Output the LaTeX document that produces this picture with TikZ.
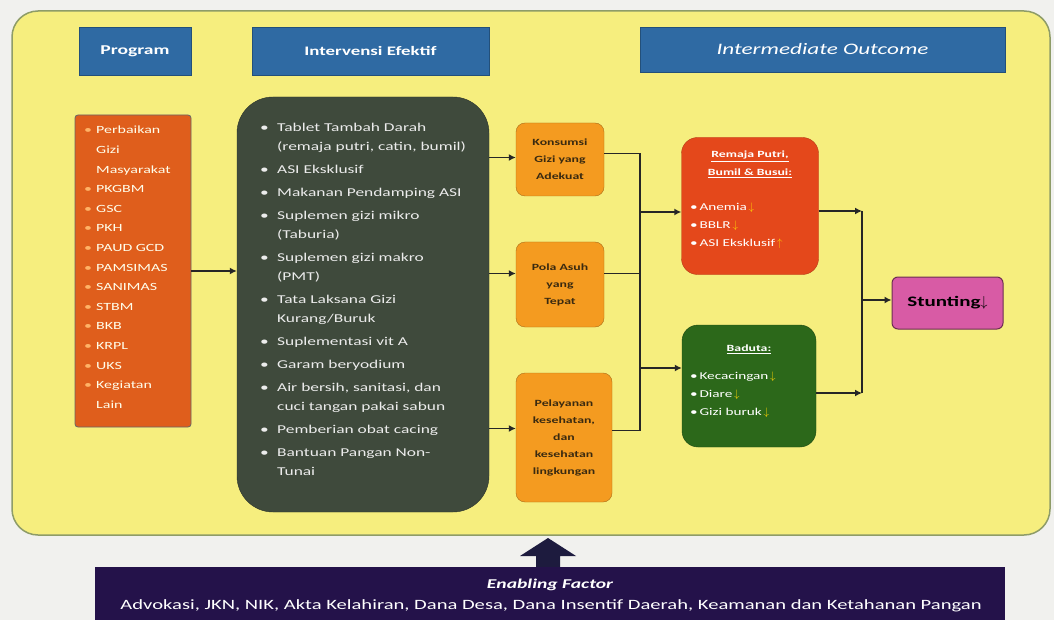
\documentclass[tikz,border=0pt]{standalone}
\usepackage{fontspec}
\setmainfont[FakeStretch=1.45]{Carlito}
\usetikzlibrary{arrows.meta}

\definecolor{pagegrey}{HTML}{F1F1EE}
\definecolor{panelyellow}{HTML}{F6EE7E}
\definecolor{paneledge}{HTML}{8E9C68}
\definecolor{hdrblue}{HTML}{2F6AA3}
\definecolor{progorange}{HTML}{DF5E1C}
\definecolor{intgreen}{HTML}{3F4A3C}
\definecolor{midorange}{HTML}{F49B20}
\definecolor{outred}{HTML}{E4481B}
\definecolor{outgreen}{HTML}{2C681A}
\definecolor{stuntpink}{HTML}{D85BA5}
\definecolor{enabpurple}{HTML}{24124A}
\definecolor{arrowcol}{HTML}{1D1B3E}
\definecolor{textdark}{HTML}{3A2A10}

\tikzset{
  hdr/.style={fill=hdrblue, draw=hdrblue!75!black, text=white, inner sep=0pt},
  listbox/.style={rounded corners=3pt, draw=black!60, line width=0.8pt},
  midbox/.style={fill=midorange, draw=midorange!70!black, rounded corners=9pt,
    text=textdark, align=center, font=\bfseries\fontsize{9.5}{17}\selectfont},
  outbox/.style={rounded corners=16pt, text=white, align=left},
  line/.style={draw=black!85, line width=1.6pt},
  arr/.style={line, -{Latex[length=7pt,width=7pt]}}
}

% bullets in the lists
\newcommand{\bl}{\makebox[17pt][l]{\textbullet}}
\newcommand{\ind}{\hspace*{17pt}}
\newcommand{\pbl}{\makebox[12pt][l]{\color{orange!60!white}\textbullet}}
\newcommand{\pind}{\hspace*{12pt}}
\newcommand{\dn}{\,{\color{yellow!70!orange}$\downarrow$}}
\newcommand{\up}{\,{\color{yellow!70!orange}$\uparrow$}}

\begin{document}
\begin{tikzpicture}[x=1pt,y=-1pt]
\useasboundingbox (0,0) rectangle (1054,620);
\fill[pagegrey] (0,0) rectangle (1054,620);

% yellow panel
\draw[fill=panelyellow, draw=paneledge, line width=1.5pt, rounded corners=26pt]
  (12,11) rectangle (1050,535);

% column headers
\node[hdr, minimum width=112, minimum height=48, font=\bfseries\fontsize{13.5}{15}\selectfont]
  (hprog) at (135,51) {Program};
\node[hdr, minimum width=237, minimum height=48, font=\bfseries\fontsize{13}{15}\selectfont]
  (hint) at (370.5,51) {Intervensi Efektif};
\node[hdr, minimum width=365, minimum height=45, font=\itshape\fontsize{16}{18}\selectfont]
  (hout) at (822.5,49.5) {Intermediate Outcome};

% program list
\node[listbox, fill=progorange, minimum width=116, minimum height=312] (prog) at (133,271) {};
\node[anchor=north west, align=left, text=white!92!yellow, inner sep=0pt,
  font=\fontsize{11}{19.6}\selectfont] (progtxt) at (84,126) {%
  \pbl Perbaikan\\ \pind Gizi\\ \pind Masyarakat\\ \pbl PKGBM\\ \pbl GSC\\
  \pbl PKH\\ \pbl PAUD GCD\\ \pbl PAMSIMAS\\ \pbl SANIMAS\\ \pbl STBM\\
  \pbl BKB\\ \pbl KRPL\\ \pbl UKS\\ \pbl Kegiatan\\ \pind Lain};

% effective interventions
\node[fill=intgreen, draw=intgreen!70!black, rounded corners=36pt,
  minimum width=252, minimum height=415] (interv) at (363,304.5) {};
\node[anchor=north west, align=left, text=white!85!gray, inner sep=0pt,
  font=\fontsize{12}{19}\selectfont] (inttxt) at (260,123) {%
  \bl Tablet Tambah Darah\\ \ind(remaja putri, catin, bumil)\\[4pt]
  \bl ASI Eksklusif\\[4pt]
  \bl Makanan Pendamping ASI\\[4pt]
  \bl Suplemen gizi mikro\\ \ind(Taburia)\\[4pt]
  \bl Suplemen gizi makro\\ \ind(PMT)\\[4pt]
  \bl Tata Laksana Gizi\\ \ind Kurang/Buruk\\[4pt]
  \bl Suplementasi vit A\\[4pt]
  \bl Garam beryodium\\[4pt]
  \bl Air bersih, sanitasi, dan\\ \ind cuci tangan pakai sabun\\[4pt]
  \bl Pemberian obat cacing\\[4pt]
  \bl Bantuan Pangan Non-\\ \ind Tunai};

% intermediate boxes
\node[midbox, minimum width=88, minimum height=73] (gizi) at (560,159.5)
  {Konsumsi\\Gizi yang\\Adekuat};
\node[midbox, minimum width=88, minimum height=85] (asuh) at (560,284.5)
  {Pola Asuh\\yang\\Tepat};
\node[midbox, minimum width=96, minimum height=129] (yankes) at (564,437.5)
  {Pelayanan\\kesehatan,\\dan\\kesehatan\\lingkungan};

% outcome groups
\node[outbox, fill=outred, draw=outred!80!black, minimum width=137, minimum height=137]
  (remaja) at (750,206) {};
\node[anchor=north, align=center, text=white, inner sep=0pt,
  font=\bfseries\fontsize{9.5}{18}\selectfont] (remajahead) at (750,151)
  {\underline{Remaja Putri,}\\\underline{Bumil \& Busui:}};
\node[anchor=north west, align=left, text=white, inner sep=0pt,
  font=\fontsize{10.5}{18}\selectfont] (remajatxt) at (690,203)
  {\textbullet\,Anemia\dn\\ \textbullet\,BBLR\dn\\ \textbullet\,ASI Eksklusif\up};

\node[outbox, fill=outgreen, draw=outgreen!70!black, minimum width=134, minimum height=122]
  (baduta) at (749,386) {};
\node[anchor=north, text=white, inner sep=0pt,
  font=\bfseries\fontsize{9.5}{18}\selectfont] (badutahead) at (749,345) {\underline{Baduta:}};
\node[anchor=north west, align=left, text=white, inner sep=0pt,
  font=\fontsize{10.5}{18}\selectfont] (badutatxt) at (690,372)
  {\textbullet\,Kecacingan\dn\\ \textbullet\,Diare\dn\\ \textbullet\,Gizi buruk\dn};

\node[fill=stuntpink, draw=stuntpink!50!black, line width=1pt, rounded corners=6pt,
  minimum width=111, minimum height=52, font=\bfseries\fontsize{14.5}{16}\selectfont]
  (stunting) at (947.5,303) {Stunting$\downarrow$};

% connectors
\coordinate (busL) at (640,300);
\coordinate (busR) at (862,300);
\draw[arr] (prog.east) -- (prog.east -| interv.west);
\draw[arr] ([yshift=2pt]interv.east |- gizi.west) -- ([yshift=2pt]gizi.west);
\draw[arr] ([yshift=11pt]interv.east |- asuh.west) -- ([yshift=11pt]asuh.west);
\draw[arr] ([yshift=9pt]interv.east |- yankes.west) -- ([yshift=9pt]yankes.west);
\draw[line] ([yshift=6pt]gizi.east) -- ([yshift=6pt]gizi.east -| busL)
  -- ([yshift=7pt]yankes.east -| busL) -- ([yshift=7pt]yankes.east);
\draw[line] ([yshift=11pt]asuh.east) -- ([yshift=11pt]asuh.east -| busL);
\draw[arr] ([yshift=-6pt]busL |- remaja.west) -- ([yshift=-6pt]remaja.west);
\draw[arr] ([yshift=18pt]busL |- baduta.west) -- ([yshift=18pt]baduta.west);
\draw[arr] ([yshift=-5pt]remaja.east) -- ([yshift=-5pt]remaja.east -| busR);
\draw[arr] ([yshift=-7pt]baduta.east) -- ([yshift=-7pt]baduta.east -| busR);
\draw[line] ([yshift=-5pt]remaja.east -| busR) -- ([yshift=-7pt]baduta.east -| busR);
\draw[arr] (busR) -- (busR -| stunting.west);

% enabling factor
\node[fill=enabpurple, minimum width=910, minimum height=54, inner sep=0pt] (enabling) at (550,594) {};
\node[text=white, font=\bfseries\itshape\fontsize{13.5}{15}\selectfont, inner sep=0pt]
  (enabhead) at (550,585) {Enabling Factor};
\node[text=white, font=\fontsize{14.2}{15}\selectfont, inner sep=0pt]
  (enabtxt) at (551,606) {Advokasi, JKN, NIK, Akta Kelahiran, Dana Desa, Dana Insentif Daerah, Keamanan dan Ketahanan Pangan};
\fill[arrowcol] (enabling.north -| 536,0) -- (536,556) -- (520,556) -- (548,538)
  -- (576,556) -- (560,556) -- (560,567) -- cycle;
\end{tikzpicture}
\end{document}
